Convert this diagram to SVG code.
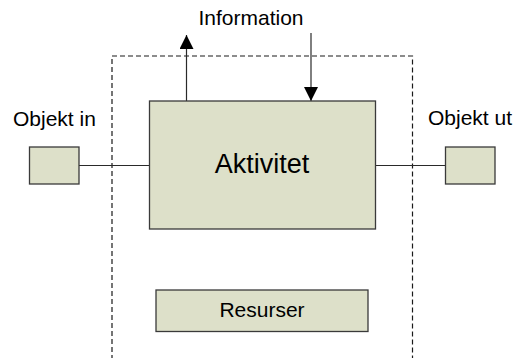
<svg xmlns="http://www.w3.org/2000/svg" width="515" height="358" viewBox="0 0 515 358">
  <style>
    .box { fill: #dde0c9; stroke: #3a3a3a; stroke-width: 1.3; }
    .line { fill: none; stroke: #2a2a2a; stroke-width: 1.2; }
    .dash { fill: none; stroke: #1a1a1a; stroke-width: 1.2; stroke-dasharray: 5 3; }
    .lbl { font-family: "Liberation Sans", Arial, sans-serif; fill: #000; }
  </style>
  <defs>
    <marker id="arrow" viewBox="0 0 14 14" refX="14" refY="7" markerWidth="14" markerHeight="14" markerUnits="userSpaceOnUse" orient="auto">
      <path d="M0,0 L14,7 L0,14 Z" fill="#000"/>
    </marker>
  </defs>

  <rect width="515" height="358" fill="#fff"/>

  <!-- system boundary, open at the bottom -->
  <path class="dash" d="M112,360 V56 H412.5 V360"/>

  <g id="connectors">
    <line class="line" x1="79" y1="165.5" x2="149.5" y2="165.5"/>
    <line class="line" x1="375.5" y1="165.5" x2="445.5" y2="165.5"/>
    <line class="line" x1="186.5" y1="101" x2="186.5" y2="35" marker-end="url(#arrow)"/>
    <line class="line" x1="311" y1="33" x2="311" y2="101" marker-end="url(#arrow)"/>
  </g>

  <g id="information">
    <text class="lbl" x="251" y="25" font-size="21" text-anchor="middle">Information</text>
  </g>

  <g id="aktivitet">
    <rect class="box" x="149.5" y="101" width="226" height="128"/>
    <text class="lbl" x="262" y="173" font-size="27" text-anchor="middle">Aktivitet</text>
  </g>

  <g id="objekt-in">
    <text class="lbl" x="13" y="126" font-size="21">Objekt in</text>
    <rect class="box" x="29.5" y="147" width="49.5" height="37"/>
  </g>

  <g id="objekt-ut">
    <text class="lbl" x="428" y="125" font-size="21">Objekt ut</text>
    <rect class="box" x="445.5" y="147" width="49.5" height="37"/>
  </g>

  <g id="resurser">
    <rect class="box" x="156" y="290" width="212" height="41.5"/>
    <text class="lbl" x="262" y="317" font-size="21" text-anchor="middle">Resurser</text>
  </g>
</svg>
